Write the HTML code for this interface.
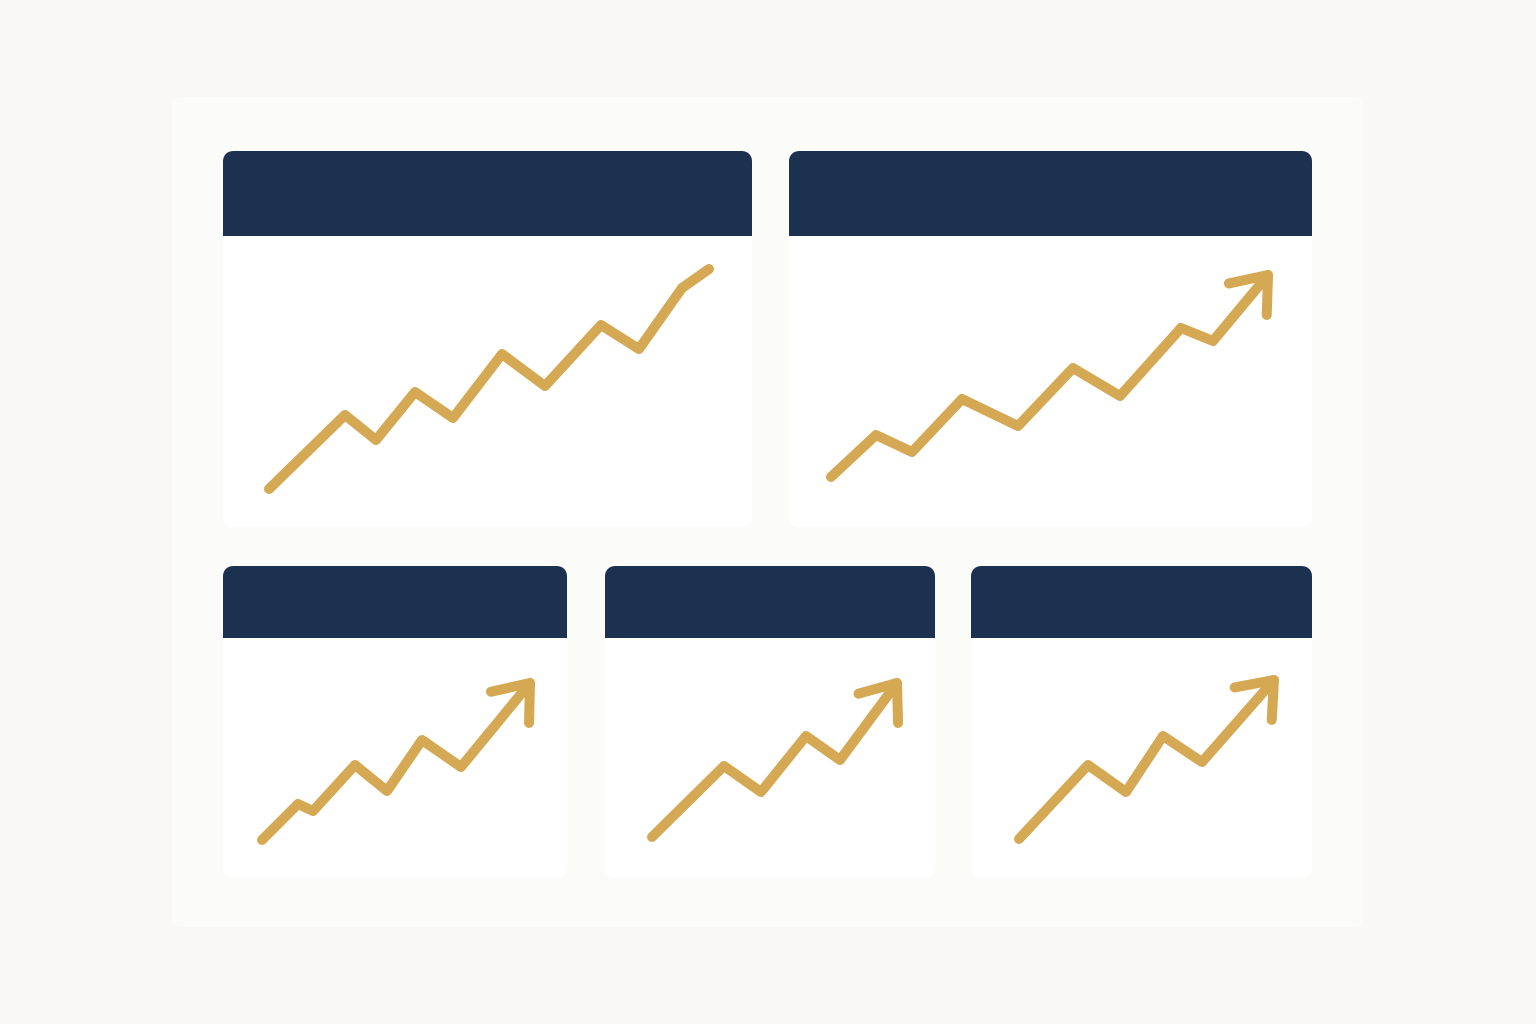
<!DOCTYPE html>
<html>
<head>
<meta charset="utf-8">
<style>
  html,body{margin:0;padding:0;}
  body{width:1536px;height:1024px;background:#f9f8f6;position:relative;overflow:hidden;font-family:"Liberation Sans",sans-serif;}
  #panel{position:absolute;left:172px;top:97px;width:1190px;height:830px;background:#fbfbf9;border-radius:6px;}
  .card{position:absolute;background:#fff;border-radius:10px;overflow:hidden;}
  .hdr{position:absolute;left:0;top:0;right:0;background:#1c3150;}
  svg{position:absolute;left:0;top:0;}
</style>
</head>
<body>
<div id="panel"></div>
<div class="card" style="left:223px;top:151px;width:529px;height:376px;"><div class="hdr" style="height:85px"></div></div>
<div class="card" style="left:789px;top:151px;width:523px;height:376px;"><div class="hdr" style="height:85px"></div></div>
<div class="card" style="left:223px;top:566px;width:344px;height:312px;"><div class="hdr" style="height:72px"></div></div>
<div class="card" style="left:605px;top:566px;width:330px;height:312px;"><div class="hdr" style="height:72px"></div></div>
<div class="card" style="left:971px;top:566px;width:341px;height:312px;"><div class="hdr" style="height:72px"></div></div>
<svg id="chart" width="1536" height="1024"></svg>
<script>
// Data arrays (x step, y value) for each chart
const xs1 = [1.8,17,23.2,31,38.6,48.4,57,68.2,75.8,84.4,89.8];
const ys1 = [2.2,17,12,21.6,16.4,29.2,22.8,35,30.2,42.4,46.2];
const xs2 = [2.2,11.2,18.4,28.4,39.6,50.6,60,72.2,78.6,89.6];
const ys2 = [2.6,11,7.6,18.2,12.8,24.4,18.8,32.4,29.8,43];
const xs3 = [2.4,9.6,12.6,21,27.4,34.4,42.2,56];
const ys3 = [2,9.2,7.8,17,11.8,22,16.6,33.4];
const xs4 = [2.4,16.8,24.2,33.2,40,51.4];
const ys4 = [2.6,16.8,11.6,22.8,18,33.4];
const xs5 = [1.8,15.6,23.2,30.6,38.4,52.8];
const ys5 = [2.2,17,11.6,22.8,17.6,34];
const arrows = [false,true,true,true,true];

const charts = [
  {xs:xs1, ys:ys1, ox:260, oy:500},
  {xs:xs2, ys:ys2, ox:820, oy:490},
  {xs:xs3, ys:ys3, ox:250, oy:850},
  {xs:xs4, ys:ys4, ox:640, oy:850},
  {xs:xs5, ys:ys5, ox:1010, oy:850}
];
const K = 5;
const NS = "http://www.w3.org/2000/svg";
const svg = document.getElementById('chart');
const color = "#d5a853";
charts.forEach((c, i) => {
  const xScale = v => c.ox + v * K;
  const yScale = v => c.oy - v * K;
  const pts = c.xs.map((x, j) => [xScale(x), yScale(c.ys[j])]);
  const pl = document.createElementNS(NS, 'polyline');
  pl.setAttribute('points', pts.map(p => p.join(',')).join(' '));
  pl.setAttribute('fill', 'none');
  pl.setAttribute('stroke', color);
  pl.setAttribute('stroke-width', '10');
  pl.setAttribute('stroke-linecap', 'round');
  pl.setAttribute('stroke-linejoin', 'round');
  
  
  svg.appendChild(pl);
  if (arrows[i]) {
    const a = pts[pts.length - 2], b = pts[pts.length - 1];
    const ang = Math.atan2(a[1] - b[1], a[0] - b[0]);
    const L = 40, spread = 38 * Math.PI / 180;
    const p1 = [b[0] + L * Math.cos(ang - spread), b[1] + L * Math.sin(ang - spread)];
    const p2 = [b[0] + L * Math.cos(ang + spread), b[1] + L * Math.sin(ang + spread)];
    const ah = document.createElementNS(NS, 'polyline');
    ah.setAttribute('points', [p1, b, p2].map(p => p.join(',')).join(' '));
    ah.setAttribute('fill', 'none');
    ah.setAttribute('stroke', color);
    ah.setAttribute('stroke-width', '10');
    ah.setAttribute('stroke-linecap', 'round');
    ah.setAttribute('stroke-linejoin', 'round');
    
    
    svg.appendChild(ah);
  }
});
</script>
</body>
</html>
